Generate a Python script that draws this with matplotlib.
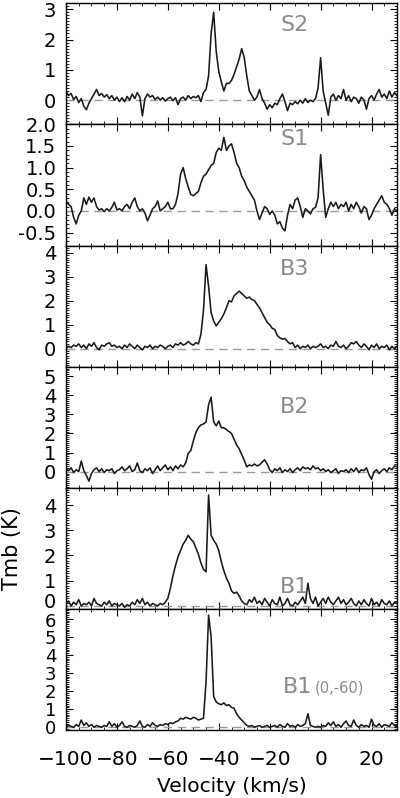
import numpy as np
import matplotlib
matplotlib.use("Agg")
import matplotlib.pyplot as plt
from matplotlib.ticker import MultipleLocator, AutoMinorLocator, FormatStrFormatter
import matplotlib.transforms as mtransforms

# velocity channels, 1 km/s from -100 to 30
velocity = np.arange(-100, 31, 1)

s2 = [0.30, 0.15, 0.22, 0.02, 0.12, -0.08, 0.05, -0.20, -0.32, -0.10,
      0.05, 0.20, 0.35, 0.15, 0.22, 0.10, 0.18, 0.05, 0.15, 0.00,
      0.10, -0.05, 0.08, -0.05, 0.12, 0.00, 0.20, 0.05, 0.25, 0.10,
      -0.52, 0.05, 0.20, 0.10, 0.15, 0.02, 0.10, 0.00, 0.08, -0.03,
      0.05, 0.10, -0.02, 0.08, -0.15, 0.05, 0.10, 0.00, 0.15, 0.05,
      0.12, 0.08, 0.15, -0.05, 0.25, 0.35, 0.80, 2.20, 2.90, 1.60,
      0.95, 0.60, 0.30, 0.55, 0.55, 0.65, 0.85, 1.10, 1.35, 1.70,
      1.40, 0.80, 0.30, 0.15, 0.00, 0.10, 0.35, 0.05, -0.10, -0.30,
      -0.15, -0.25, -0.10, -0.15, 0.05, 0.20, -0.05, -0.35, -0.10, -0.15,
      -0.05, -0.12, 0.00, -0.10, 0.05, -0.08, 0.00, -0.05, 0.05, 0.40,
      1.40, 0.30, -0.10, -0.50, 0.10, 0.20, 0.00, 0.15, 0.05, 0.35,
      0.00, 0.15, -0.05, 0.10, 0.05, -0.10, 0.10, 0.00, -0.30, 0.05,
      0.15, 0.00, 0.20, 0.35, 0.10, 0.20, 0.05, 0.30, 0.10, 0.25,
      0.15]

s1 = [0.23, 0.15, 0.10, -0.15, -0.30, -0.10, 0.00, 0.30, 0.15, 0.32,
      0.20, 0.30, 0.10, 0.02, 0.05, -0.02, 0.05, 0.00, 0.08, 0.20,
      0.02, 0.05, 0.00, 0.10, 0.15, 0.05, 0.20, 0.30, 0.10, 0.00,
      0.05, -0.05, -0.23, -0.10, 0.05, 0.10, 0.23, 0.00, 0.05, 0.10,
      0.20, 0.05, 0.05, 0.15, 0.40, 0.85, 1.00, 0.75, 0.55, 0.38,
      0.35, 0.40, 0.45, 0.65, 0.80, 0.85, 0.95, 1.05, 1.10, 1.35,
      1.45, 1.40, 1.70, 1.40, 1.50, 1.55, 1.35, 1.10, 1.00, 0.80,
      0.70, 0.55, 0.45, 0.35, 0.25, 0.00, -0.20, -0.05, 0.10, 0.05,
      -0.08, 0.00, -0.10, -0.30, -0.25, -0.40, -0.46, -0.10, 0.15, 0.05,
      0.25, 0.30, 0.10, -0.15, 0.05, 0.00, -0.07, 0.05, 0.08, 0.30,
      1.30, 0.50, -0.15, 0.05, 0.20, 0.10, 0.20, 0.05, 0.15, 0.10,
      0.20, 0.00, 0.15, 0.05, 0.20, 0.10, -0.05, 0.10, 0.05, -0.20,
      -0.10, 0.05, 0.15, 0.25, 0.35, 0.20, 0.15, 0.05, -0.10, 0.05,
      0.00]

b3 = [0.00, 0.10, 0.05, 0.15, 0.10, 0.20, 0.05, 0.15, 0.00, 0.20,
      0.10, 0.25, 0.05, -0.05, 0.15, 0.10, 0.20, 0.25, 0.10, 0.15,
      0.05, 0.10, 0.00, 0.15, 0.05, 0.20, 0.10, 0.00, 0.15, 0.05,
      -0.05, 0.10, 0.05, 0.15, 0.00, 0.10, 0.05, 0.15, 0.10, 0.00,
      0.10, 0.15, 0.05, 0.20, 0.15, 0.25, 0.15, 0.20, 0.30, 0.20,
      0.15, 0.25, 0.20, 0.60, 1.60, 3.50, 2.60, 1.50, 1.15, 0.95,
      1.10, 1.25, 1.45, 1.70, 2.00, 1.95, 2.20, 2.30, 2.40, 2.30,
      2.20, 2.10, 2.15, 2.05, 2.00, 1.85, 1.70, 1.50, 1.30, 1.10,
      1.00, 0.85, 0.80, 0.55, 0.45, 0.40, 0.42, 0.30, 0.20, 0.25,
      0.05, 0.15, 0.00, 0.10, 0.05, 0.15, 0.00, 0.10, 0.05, 0.10,
      0.20, 0.05, 0.10, 0.00, 0.15, 0.10, 0.30, 0.10, 0.05, 0.15,
      0.00, 0.10, 0.25, 0.20, 0.30, 0.15, 0.05, 0.20, 0.10, -0.05,
      0.15, 0.05, 0.20, 0.00, 0.10, 0.05, 0.15, -0.05, 0.10, 0.00,
      0.10]

b2 = [0.15, 0.05, 0.20, -0.05, 0.10, 0.00, 0.55, 0.05, -0.20, -0.50,
      -0.10, 0.10, 0.20, 0.00, 0.15, -0.05, 0.10, 0.05, 0.15, -0.10,
      0.05, 0.10, 0.25, 0.05, 0.15, 0.30, 0.00, 0.10, 0.45, 0.05,
      -0.05, 0.15, 0.05, 0.20, -0.10, 0.10, 0.30, 0.05, 0.20, 0.35,
      0.10, 0.25, 0.05, 0.30, 0.15, 0.35, 0.25, 0.45, 0.95, 1.10,
      1.60, 2.05, 2.30, 2.45, 2.50, 2.60, 3.50, 3.90, 2.60, 2.40,
      2.65, 2.30, 2.30, 2.20, 2.10, 2.00, 1.70, 1.40, 1.20, 0.90,
      0.60, 0.25, 0.35, 0.30, 0.40, 0.30, 0.35, 0.50, 0.62, 0.40,
      0.10, -0.05, 0.15, 0.05, 0.20, -0.05, 0.10, 0.00, 0.15, -0.05,
      0.10, 0.20, 0.05, 0.25, 0.15, 0.20, 0.10, 0.30, 0.15, 0.20,
      0.05, 0.15, 0.00, 0.10, -0.05, 0.05, 0.15, -0.10, 0.05, 0.00,
      0.10, -0.05, 0.15, 0.00, 0.20, -0.05, 0.10, 0.05, 0.20, -0.15,
      -0.40, 0.00, 0.10, -0.10, 0.05, 0.15, 0.00, 0.20, 0.10, 0.30,
      0.25]

b1 = [0.10, 0.20, 0.00, 0.15, 0.05, 0.25, 0.00, 0.10, 0.05, 0.15,
      0.00, 0.30, 0.10, 0.05, 0.00, 0.15, 0.05, 0.20, 0.00, 0.10,
      0.05, 0.00, 0.10, -0.05, 0.05, 0.00, 0.15, 0.05, 0.25, 0.10,
      0.30, 0.05, 0.15, 0.00, 0.10, 0.05, 0.00, 0.10, 0.05, 0.15,
      0.30, 0.70, 1.20, 1.60, 1.95, 2.20, 2.45, 2.60, 2.80, 2.65,
      2.55, 2.30, 2.05, 1.70, 1.45, 1.35, 4.40, 2.80, 2.60, 2.45,
      2.20, 1.75, 1.40, 1.10, 0.90, 0.60, 0.50, 0.55, 0.40, 0.20,
      0.10, 0.05, 0.25, 0.15, 0.35, 0.10, 0.20, 0.05, 0.30, 0.15,
      0.00, 0.25, 0.10, 0.05, 0.35, 0.00, 0.10, 0.30, 0.05, 0.00,
      0.15, 0.05, 0.20, 0.35, 0.10, 0.90, 0.30, 0.10, 0.35, 0.00,
      0.15, 0.30, 0.10, 0.35, 0.15, 0.05, 0.20, 0.35, 0.10, 0.25,
      0.05, 0.15, 0.30, 0.10, 0.00, 0.20, 0.05, 0.25, 0.10, 0.00,
      0.30, 0.05, 0.15, 0.00, 0.25, 0.10, 0.05, 0.20, 0.00, 0.15,
      0.10]

b1_off = [0.00, 0.10, 0.05, 0.00, 0.15, 0.05, 0.40, 0.10, 0.25, 0.05,
          0.15, 0.00, 0.10, 0.05, 0.00, 0.10, 0.05, 0.30, 0.05, 0.20,
          0.00, 0.10, 0.30, 0.05, 0.00, 0.10, 0.05, 0.00, 0.10, 0.35,
          0.05, 0.00, 0.15, 0.05, 0.25, 0.10, 0.05, 0.15, 0.10, 0.20,
          0.15, 0.25, 0.20, 0.30, 0.35, 0.50, 0.45, 0.55, 0.50, 0.45,
          0.55, 0.50, 0.40, 0.45, 0.50, 2.50, 6.20, 5.00, 1.70, 1.40,
          1.30, 1.25, 1.35, 1.20, 1.25, 1.10, 1.05, 0.75, 0.55, 0.40,
          0.25, 0.10, 0.05, 0.10, 0.00, 0.05, 0.10, 0.00, 0.05, 0.10,
          0.00, 0.05, 0.10, 0.00, 0.15, 0.05, 0.00, 0.20, 0.05, 0.10,
          0.00, 0.15, 0.05, 0.10, 0.20, 0.75, 0.10, 0.05, 0.00, 0.05,
          0.00, 0.10, 0.05, 0.25, 0.10, 0.30, 0.05, 0.15, 0.00, 0.20,
          0.35, 0.10, 0.05, 0.40, 0.10, 0.00, 0.15, 0.05, 0.10, 0.00,
          0.45, 0.10, 0.05, 0.20, 0.00, 0.15, 0.10, 0.05, 0.25, 0.10,
          0.00]

spectra = [s2, s1, b3, b2, b1, b1_off]
names = ["S2", "S1", "B3", "B2", "B1", "B1"]
ylims = [(-0.8, 3.2), (-0.8, 2.0), (-0.75, 4.3), (-0.85, 5.5), (-0.12, 4.68), (-0.16, 6.54)]
ysteps = [1, 0.5, 1, 1, 1, 1]
label_y = [0.82, 0.88, 0.81, 0.67, 0.18, 0.355]


def shift_label(ax, text, dy_px):
    # nudge one y tick label up/down by a few pixels
    for lab in ax.get_yticklabels():
        if lab.get_text() == text:
            off = mtransforms.ScaledTranslation(0, dy_px / 100, fig.dpi_scale_trans)
            lab.set_transform(lab.get_transform() + off)


fig = plt.figure(figsize=(4, 7.98), dpi=100)
fig.subplots_adjust(left=0.165, right=0.9925, top=0.996, bottom=0.085, hspace=0)
axes = fig.subplots(6, 1, sharex=True)

for i, ax in enumerate(axes):
    ax.axhline(0, color="#9a9a9a", ls=(0, (6, 4)), lw=1.0)
    ax.plot(velocity, spectra[i], color="#1a1a1a", lw=1.15)
    ax.set_xlim(-100, 30)
    ax.set_ylim(*ylims[i])
    ax.yaxis.set_major_locator(MultipleLocator(ysteps[i]))
    ax.yaxis.set_minor_locator(AutoMinorLocator(5 if ysteps[i] == 0.5 else 10))
    ax.xaxis.set_major_locator(MultipleLocator(20))
    ax.xaxis.set_minor_locator(MultipleLocator(5))
    ax.tick_params(which="both", direction="in", top=True, right=True)
    ax.tick_params(which="major", length=5, width=0.8, labelsize=14, pad=7)
    ax.tick_params(which="minor", length=2.5, width=0.6)
    ax.tick_params(axis="x", which="major", pad=14, labelsize=14.5)
    for sp in ax.spines.values():
        sp.set_linewidth(1.0)
    if ysteps[i] == 0.5:
        ax.yaxis.set_major_formatter(FormatStrFormatter("%.1f"))
    if i < 5:
        ax.text(0.69, label_y[i], names[i], transform=ax.transAxes, ha="center",
                va="center", fontsize=16, color="#8a8a8a")

# the last panel is tighter, slightly smaller tick labels keep them apart
axes[5].tick_params(axis="y", which="major", labelsize=13)

axes[5].text(0.655, label_y[5], "B1", transform=axes[5].transAxes, ha="left",
             va="center", fontsize=16, color="#8a8a8a")
axes[5].text(0.752, label_y[5] - 0.01, "(0,-60)", transform=axes[5].transAxes, ha="left",
             va="center", fontsize=10.5, color="#8a8a8a")

fig.canvas.draw()
shift_label(axes[4], "0", 5)
shift_label(axes[5], "6", -1)

axes[4].set_ylabel("Tmb (K)", fontsize=15)
axes[4].yaxis.set_label_coords(-0.133, 0.5)
axes[5].set_xlabel("Velocity (km/s)", fontsize=14.5, labelpad=6)

fig.savefig("out.png", dpi=100)
